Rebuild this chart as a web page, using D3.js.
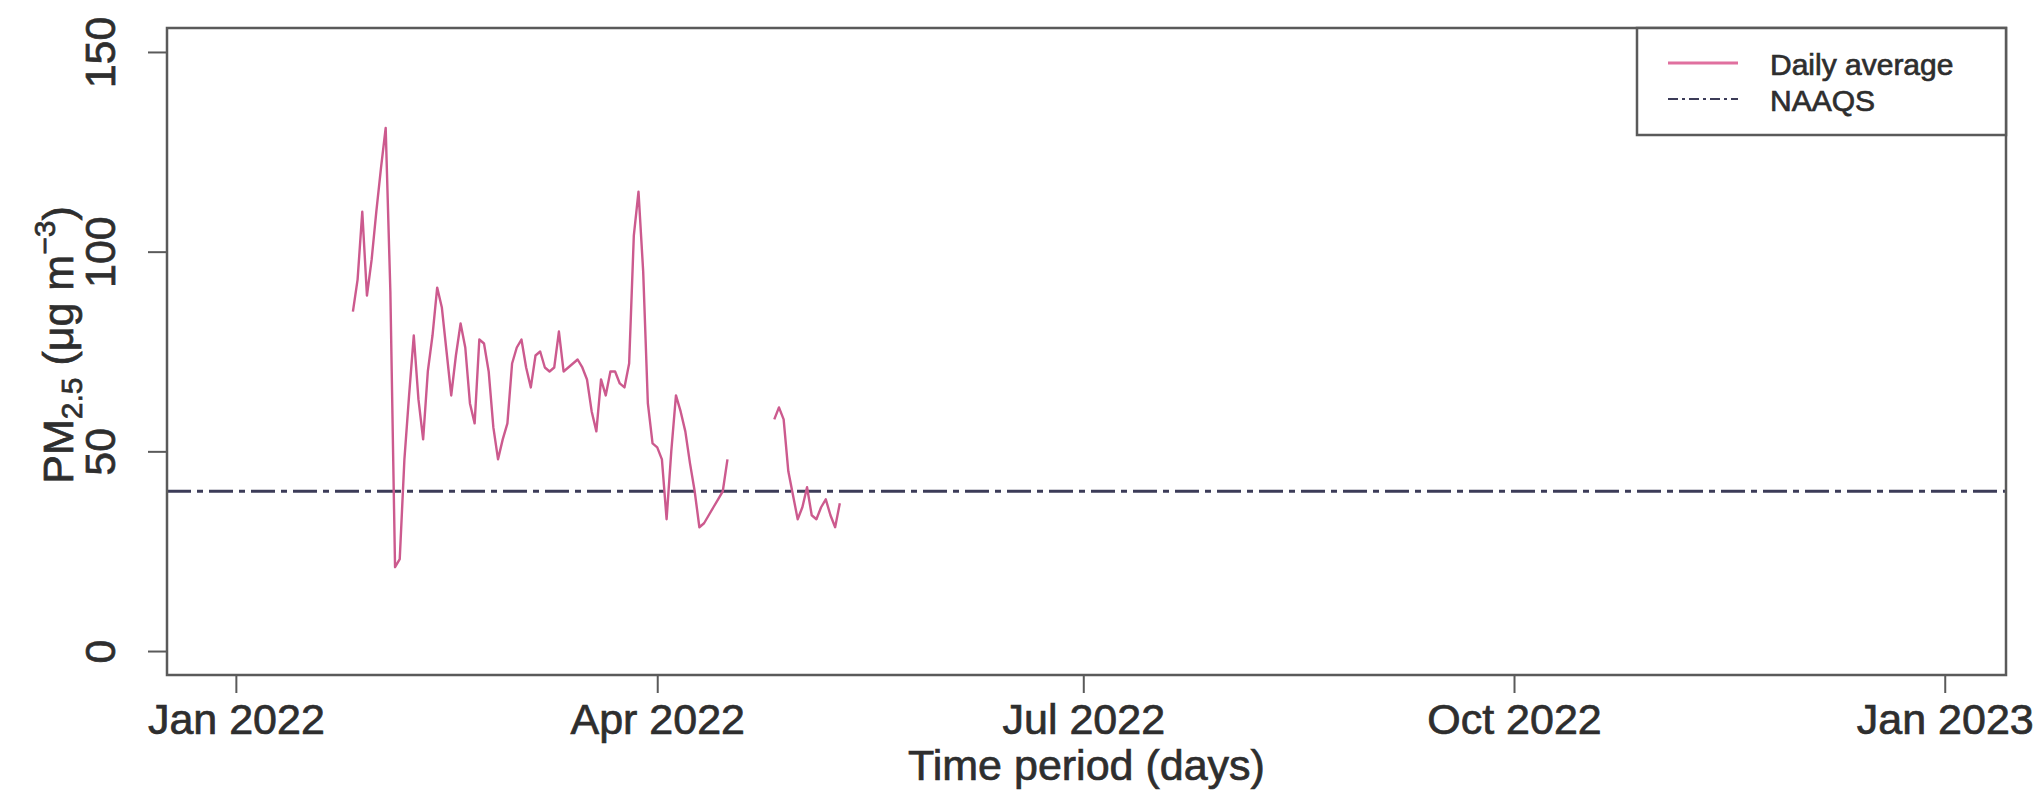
<!DOCTYPE html>
<html>
<head>
<meta charset="utf-8">
<script src="https://cdn.jsdelivr.net/npm/d3@7"></script>
<style>
  html, body { margin: 0; padding: 0; background: #ffffff; }
  svg { display: block; }
</style>
</head>
<body>
<svg id="chart" width="2039" height="790"></svg>
<script>
// ---------------- data ----------------
const segment1Start = "2022-01-26";
const segment1Values = [
  85, 93, 110, 89, 98, 110, 121, 131, 90, 21,
  23, 48, 64, 79, 63, 53, 70, 79, 91, 86,
  75, 64, 74, 82, 76, 62, 57, 78, 77, 70,
  56, 48, 53, 57, 72, 76, 78, 71, 66, 74,
  75, 71, 70, 71, 80, 70, 71, 72, 73, 71,
  68, 60, 55, 68, 64, 70, 70, 67, 66, 72,
  104, 115, 95, 62, 52, 51, 48, 33, 50, 64,
  60, 55, 47, 40, 31, 32, 34, 36, 38, 40,
  48
];
const segment2Start = "2022-04-26";
const segment2Values = [58, 61, 58, 45, 39, 33, 36, 41, 34, 33, 36, 38, 34, 31, 37];
const naaqsValue = 40;
const xTickDates = ["2022-01-01", "2022-04-01", "2022-07-01", "2022-10-01", "2023-01-01"];
const yTickValues = [0, 50, 100, 150];
const legendLabels = ["Daily average", "NAAQS"];

// ---------------- layout ----------------
const svg = d3.select("#chart");
const plot = { left: 167, right: 2006, top: 28, bottom: 675 };
const FONT = "'Liberation Sans', Arial, Helvetica, sans-serif";
const pink = "#cc5a8e";
const legendPink = "#e0709f";
const naaqsColor = "#3c3c58";
const frameColor = "#5a5a5a";
const textColor = "#2e2e2e";

svg.append("rect").attr("width", 2039).attr("height", 790).attr("fill", "#fff");

const parse = d3.utcParse("%Y-%m-%d");
const x = d3.scaleUtc()
  .domain([new Date(Date.UTC(2021, 11, 17, 7)), new Date(Date.UTC(2023, 0, 14, 2))])
  .range([plot.left, plot.right]);
const y = d3.scaleLinear().domain([-6, 156]).range([plot.bottom, plot.top]);

function toSeries(start, values) {
  const s = parse(start);
  return values.map((v, i) => ({ date: d3.utcDay.offset(s, i), value: v }));
}
const series = [toSeries(segment1Start, segment1Values), toSeries(segment2Start, segment2Values)];

function styleText(sel, size) {
  sel.attr("font-family", FONT).attr("font-size", size)
    .attr("fill", textColor).attr("stroke", textColor).attr("stroke-width", 0.7);
}

// NAAQS line
svg.append("line")
  .attr("x1", plot.left).attr("x2", plot.right)
  .attr("y1", y(naaqsValue)).attr("y2", y(naaqsValue))
  .attr("stroke", naaqsColor).attr("stroke-width", 3)
  .attr("stroke-dasharray", "24,6,6,6");

// data line
const line = d3.line().x(d => x(d.date)).y(d => y(d.value));
series.forEach(s => {
  svg.append("path").datum(s)
    .attr("d", line)
    .attr("fill", "none")
    .attr("stroke", pink)
    .attr("stroke-width", 2.4)
    .attr("stroke-linejoin", "round");
});

// frame
svg.append("rect")
  .attr("x", plot.left).attr("y", plot.top)
  .attr("width", plot.right - plot.left).attr("height", plot.bottom - plot.top)
  .attr("fill", "none").attr("stroke", frameColor).attr("stroke-width", 2.5);

// x axis
const xAxis = d3.axisBottom(x)
  .tickValues(xTickDates.map(parse))
  .tickSize(18)
  .tickFormat(d3.utcFormat("%b %Y"));
const gx = svg.append("g").attr("transform", `translate(0,${plot.bottom})`).call(xAxis);
gx.select(".domain").remove();
gx.selectAll(".tick line").attr("stroke", frameColor).attr("stroke-width", 2);
styleText(gx.selectAll(".tick text").attr("y", 59).attr("dy", null), 43);

// y axis
const yAxis = d3.axisLeft(y).tickValues(yTickValues).tickSize(19);
const gy = svg.append("g").attr("transform", `translate(${plot.left},0)`).call(yAxis);
gy.select(".domain").remove();
gy.selectAll(".tick line").attr("stroke", frameColor).attr("stroke-width", 2);
styleText(gy.selectAll(".tick text")
  .attr("x", 0).attr("y", 0).attr("dy", null)
  .attr("text-anchor", "middle")
  .attr("transform", "translate(-52,0) rotate(-90)"), 43);

// axis titles
styleText(svg.append("text")
  .attr("x", (plot.left + plot.right) / 2).attr("y", 780)
  .attr("text-anchor", "middle")
  .text("Time period (days)"), 43);

const yt = svg.append("text")
  .attr("transform", "translate(73,345) rotate(-90)")
  .attr("text-anchor", "middle");
styleText(yt, 43);
yt.append("tspan").text("PM");
yt.append("tspan").attr("font-size", 30).attr("dy", 9).text("2.5");
yt.append("tspan").attr("dy", -9).text(" (μg m");
yt.append("tspan").attr("font-size", 30).attr("dy", -18).text("−3");
yt.append("tspan").attr("dy", 18).text(")");

// legend
const lg = svg.append("g");
lg.append("rect")
  .attr("x", 1637).attr("y", plot.top).attr("width", plot.right - 1637).attr("height", 107)
  .attr("fill", "#fff").attr("stroke", frameColor).attr("stroke-width", 2.5);
const legendStyles = [
  { color: legendPink, dash: null, width: 3 },
  { color: naaqsColor, dash: "10,4,3,4", width: 2 }
];
legendLabels.forEach((lab, i) => {
  const cy = 63 + i * 36;
  lg.append("line")
    .attr("x1", 1668).attr("x2", 1738).attr("y1", cy).attr("y2", cy)
    .attr("stroke", legendStyles[i].color).attr("stroke-width", legendStyles[i].width)
    .attr("stroke-dasharray", legendStyles[i].dash);
  styleText(lg.append("text")
    .attr("x", 1770).attr("y", cy + 12)
    .text(lab), 30);
});
</script>
</body>
</html>
